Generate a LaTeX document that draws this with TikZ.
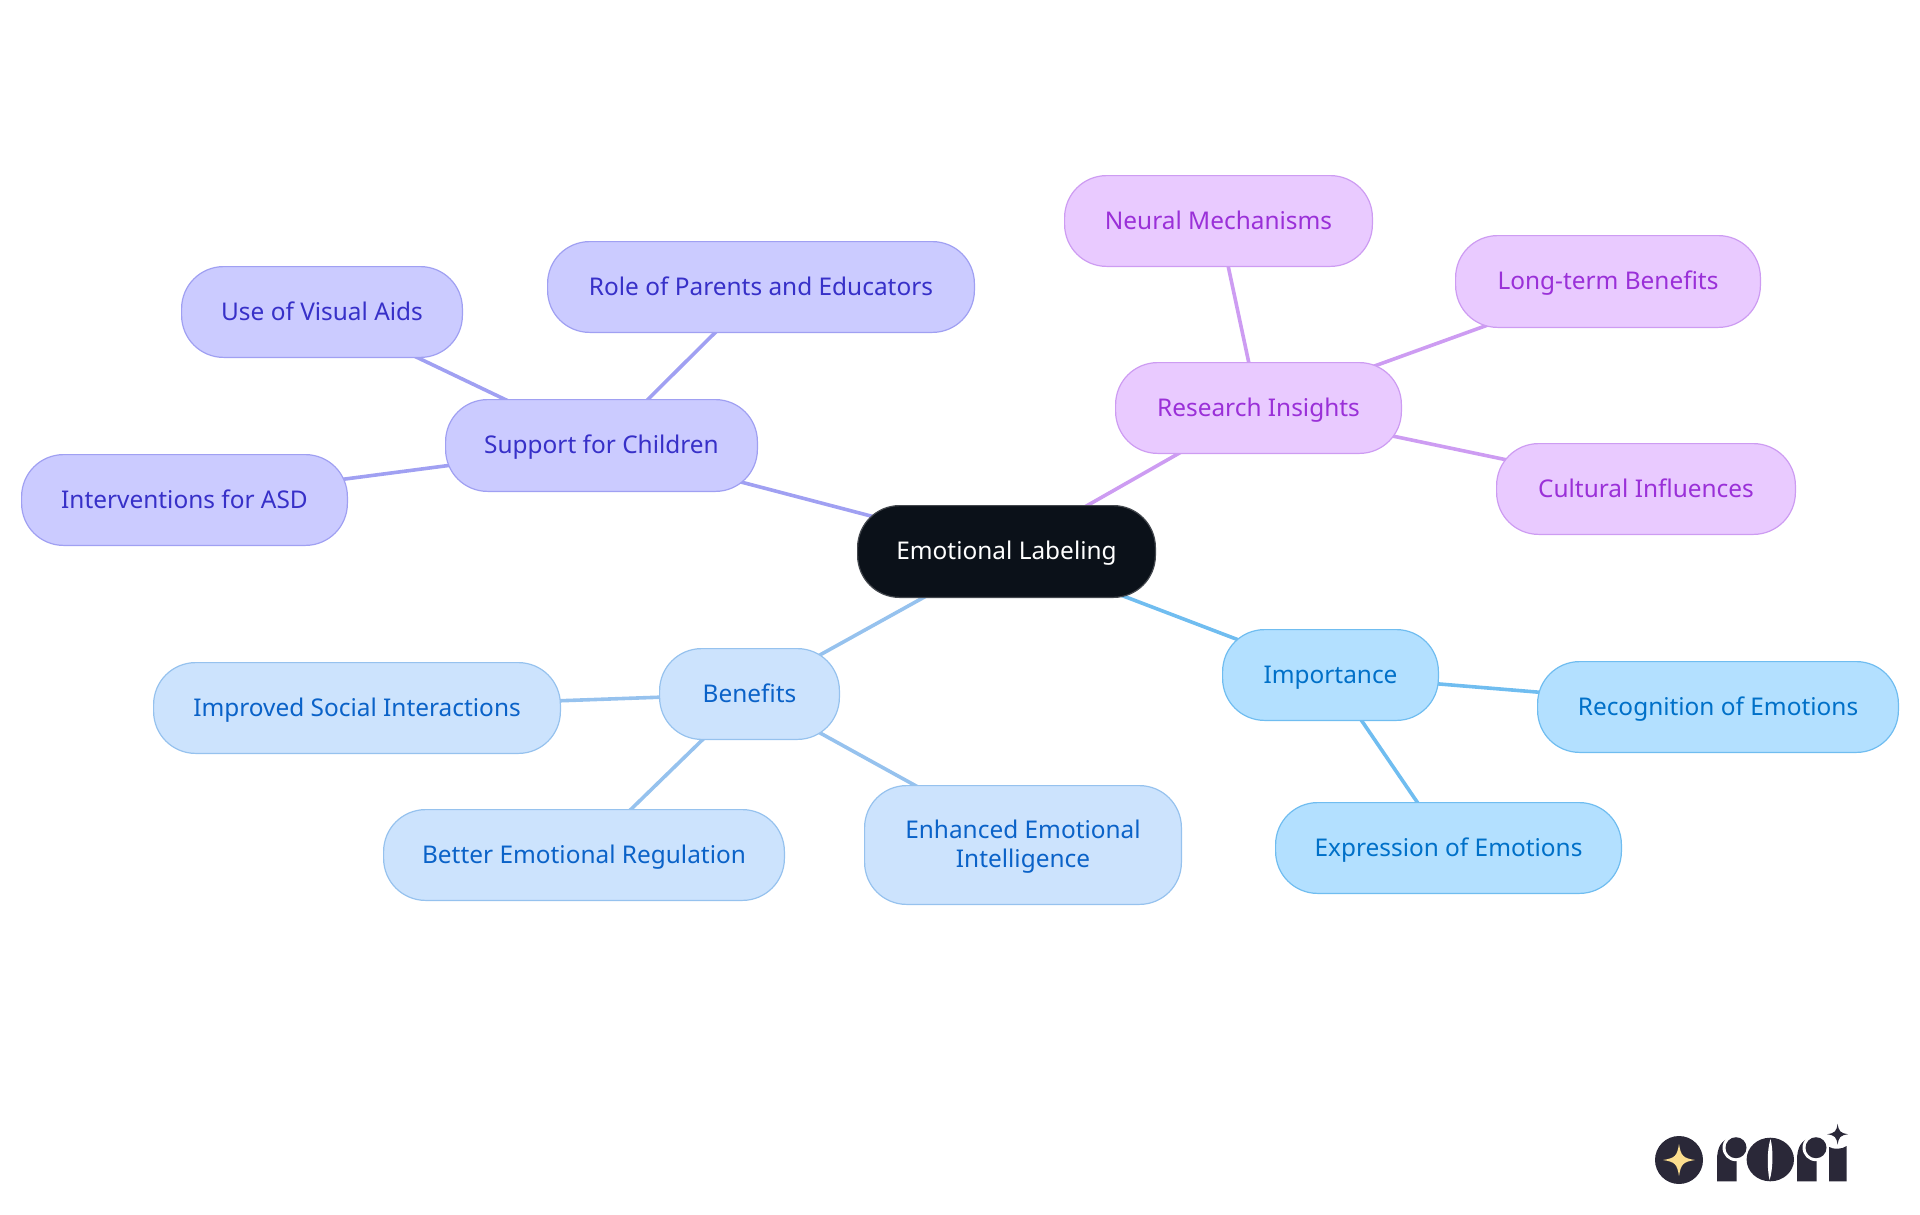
\documentclass[tikz,border=0pt]{standalone}
\usepackage{fontspec}
\setmainfont{Noto Sans}
\usetikzlibrary{backgrounds}
\definecolor{rootfill}{HTML}{0B1119}
\definecolor{rootdraw}{HTML}{43474D}
\definecolor{indf}{HTML}{CBCBFF}\definecolor{indd}{HTML}{A0A0F2}\definecolor{indt}{HTML}{3730C8}
\definecolor{purf}{HTML}{E9CAFF}\definecolor{purd}{HTML}{CD9CF2}\definecolor{purt}{HTML}{9A30D8}
\definecolor{skyf}{HTML}{B3E0FF}\definecolor{skyd}{HTML}{70BDF0}\definecolor{skyt}{HTML}{0070C8}
\definecolor{bluf}{HTML}{CCE3FD}\definecolor{blud}{HTML}{96C2EE}\definecolor{blut}{HTML}{0A62C8}
\definecolor{logod}{HTML}{2A2838}\definecolor{logos}{HTML}{FBDD8E}
\tikzset{
 box/.style={rounded corners=42pt,line width=1.2pt,inner sep=0pt,align=center,text height=24pt,text depth=8pt,font=\fontsize{24.4}{29}\selectfont},
 rootbox/.style={box,fill=rootfill,draw=rootdraw,text=white},
 indbox/.style={box,fill=indf,draw=indd,text=indt},
 purbox/.style={box,fill=purf,draw=purd,text=purt},
 skybox/.style={box,fill=skyf,draw=skyd,text=skyt},
 blubox/.style={box,fill=bluf,draw=blud,text=blut},
 twolines/.style={blubox,text height=53pt},
 edge/.style={line width=3.6pt},
}
\newcommand{\bx}[7]{\node[#1,minimum width=#5pt-#3pt-1.2pt,minimum height=#6pt-#4pt-1.2pt] (#2) at ({(#3+#5)/2},{(#4+#6)/2}) {#7};}
\newcommand{\sparkle}[4]{\fill[#4] (#1,#2-#3) .. controls (#1+0.12*#3,#2-0.25*#3) and (#1+0.25*#3,#2-0.12*#3) .. (#1+#3,#2) .. controls (#1+0.25*#3,#2+0.12*#3) and (#1+0.12*#3,#2+0.25*#3) .. (#1,#2+#3) .. controls (#1-0.12*#3,#2+0.25*#3) and (#1-0.25*#3,#2+0.12*#3) .. (#1-#3,#2) .. controls (#1-0.25*#3,#2-0.12*#3) and (#1-0.12*#3,#2-0.25*#3) .. (#1,#2-#3) -- cycle;}
\newcommand{\logor}[1]{%
 \fill[logod] (#1,1181.3) -- (#1,1160) .. controls (#1,1148) and (#1+4,1139) .. (#1+15,1138) -- (#1+19.5,1138) -- (#1+19.5,1181.3) -- cycle;
 \fill[white] (#1+19,1147.7) circle (13.5);
 \fill[logod] (#1+19,1147.7) circle (10.5);}
\begin{document}
\begin{tikzpicture}[x=1pt,y=-1pt]
\useasboundingbox (0,0) rectangle (1920,1215);
\bx{rootbox}{root}{857}{505}{1156}{598}{Emotional Labeling}
\bx{indbox}{sup}{445}{399}{758}{492}{Support for Children}
\bx{indbox}{role}{547}{241}{975}{333}{Role of Parents and Educators}
\bx{indbox}{vis}{181}{266}{463}{358}{Use of Visual Aids}
\bx{indbox}{asd}{21}{454}{348}{546}{Interventions for ASD}
\bx{purbox}{res}{1115}{362}{1402}{454}{Research Insights}
\bx{purbox}{neu}{1064}{175}{1373}{267}{Neural Mechanisms}
\bx{purbox}{lon}{1455}{235}{1761}{328}{Long-term Benefits}
\bx{purbox}{cul}{1496}{443}{1796}{535}{Cultural Influences}
\bx{skybox}{imp}{1222}{629}{1439}{721}{Importance}
\bx{skybox}{rec}{1537}{661}{1899}{753}{Recognition of Emotions}
\bx{skybox}{exp}{1275}{802}{1622}{894}{Expression of Emotions}
\bx{blubox}{ben}{659}{648}{840}{740}{Benefits}
\bx{blubox}{soc}{153}{662}{561}{754}{Improved Social Interactions}
\bx{blubox}{bet}{383}{809}{785}{901}{Better Emotional Regulation}
\bx{twolines}{enh}{864}{785}{1182}{905}{Enhanced Emotional\\Intelligence}
\begin{pgfonlayer}{background}
\draw[edge,indd] (root.center)--(sup.center);
\draw[edge,indd] (sup.center)--(role.center);
\draw[edge,indd] (sup.center)--(vis.center);
\draw[edge,indd] (sup.center)--(asd.center);
\draw[edge,purd] (root.center)--(res.center);
\draw[edge,purd] (res.center)--(neu.center);
\draw[edge,purd] (res.center)--(lon.center);
\draw[edge,purd] (res.center)--(cul.center);
\draw[edge,skyd] (root.center)--(imp.center);
\draw[edge,skyd] (imp.center)--(rec.center);
\draw[edge,skyd] (imp.center)--(exp.center);
\draw[edge,blud] (root.center)--(ben.center);
\draw[edge,blud] (ben.center)--(soc.center);
\draw[edge,blud] (ben.center)--(bet.center);
\draw[edge,blud] (ben.center)--(enh.center);
\end{pgfonlayer}
% logo
\fill[logod] (1679,1160) circle (24);
\sparkle{1679}{1160}{16}{logos}
\logor{1717}
\fill[logod] (1770.3,1159.5) ellipse [x radius=23.7,y radius=21.8];
\fill[white] (1770.5,1139) .. controls (1767,1150) and (1767,1168) .. (1769.5,1180) .. controls (1773,1170) and (1773.5,1150) .. (1770.5,1139) -- cycle;
\logor{1797}
\fill[logod] (1829.2,1181.3) -- (1829.2,1147) .. controls (1833,1149.5) and (1842,1149.5) .. (1846.6,1146) -- (1846.6,1181.3) -- cycle;
\sparkle{1837.6}{1134.2}{10.5}{logod}
\end{tikzpicture}
\end{document}
